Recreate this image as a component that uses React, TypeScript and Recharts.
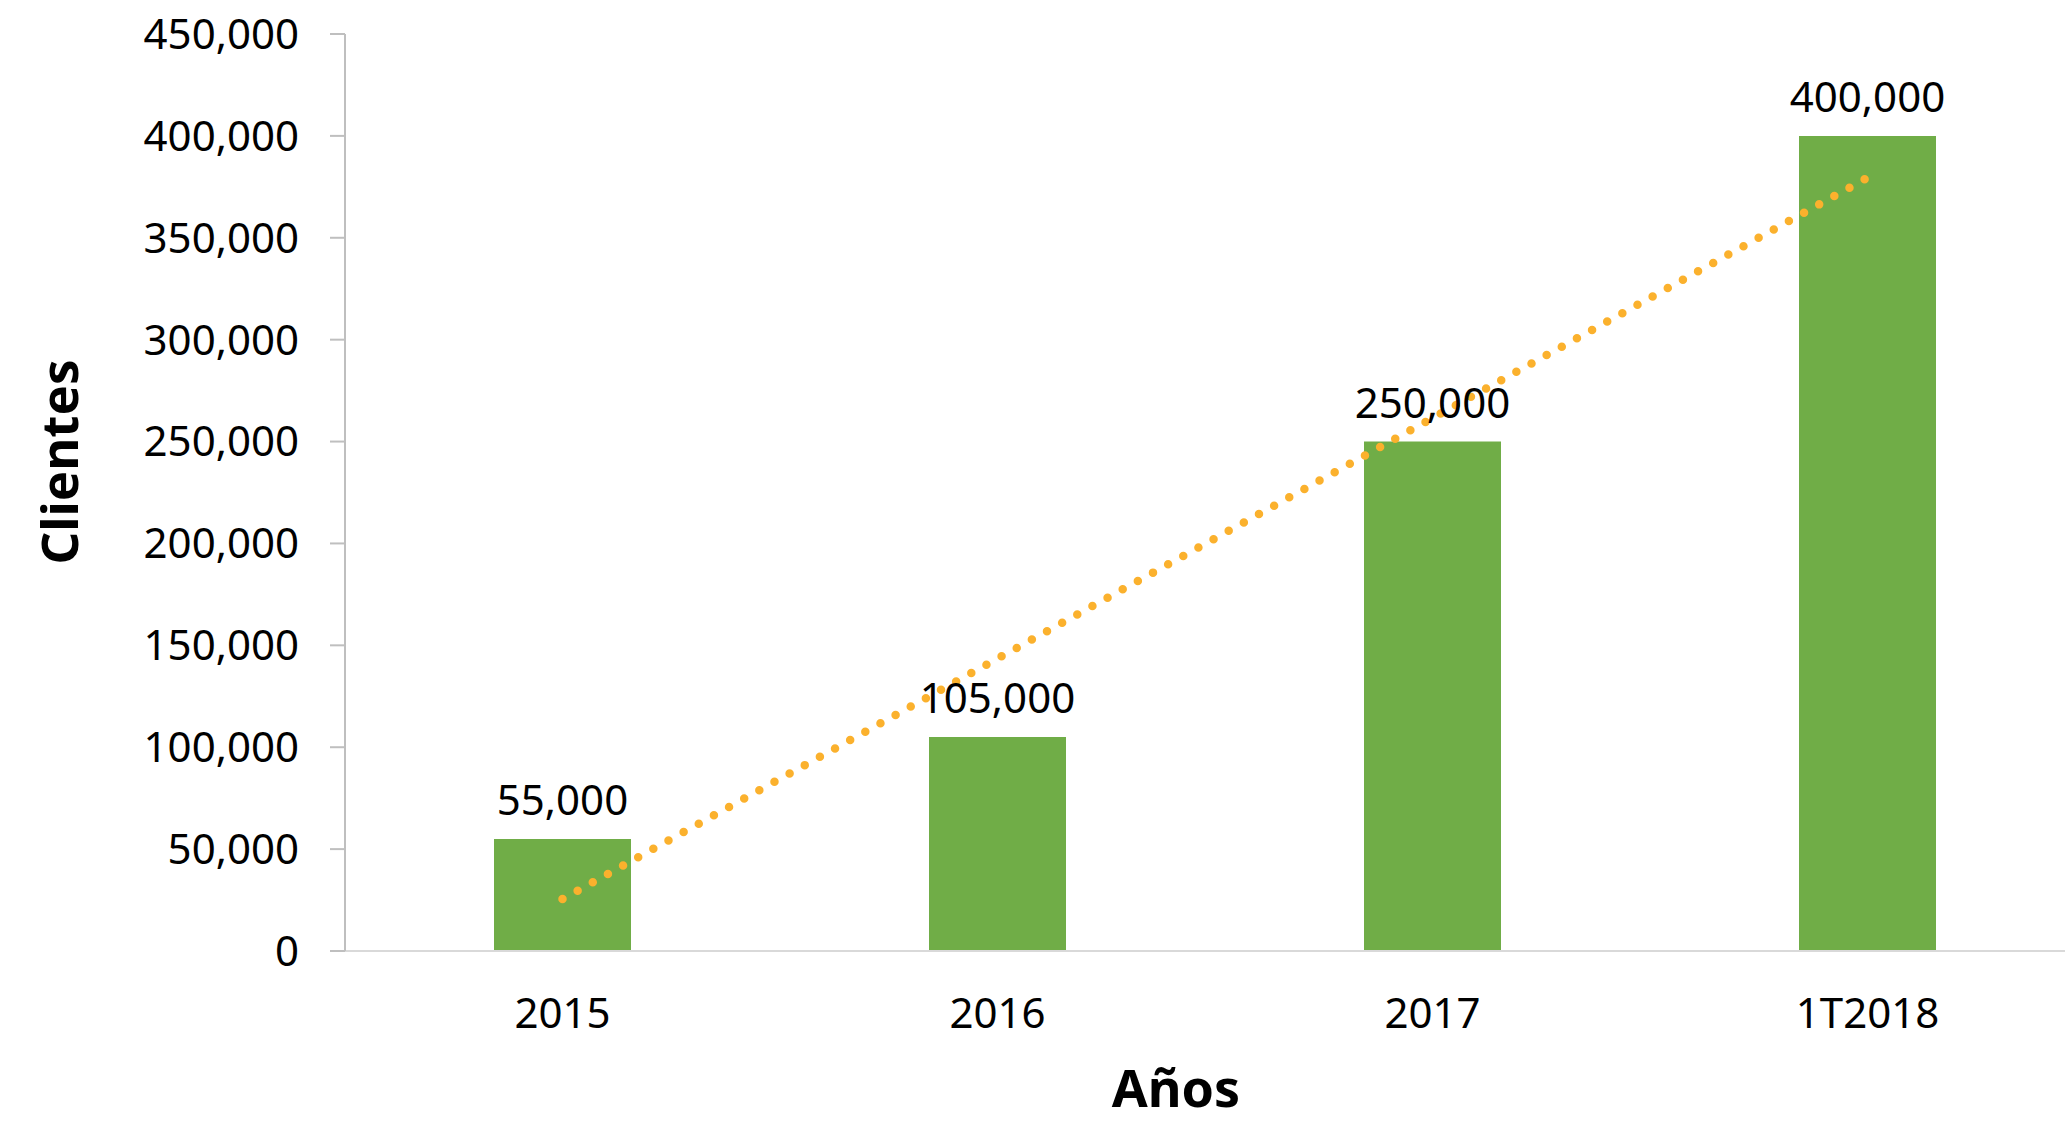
import React from 'react';
import { ComposedChart, Bar, Line, XAxis, YAxis, LabelList } from 'recharts';

const years = ['2015', '2016', '2017', '1T2018'];
const clientes = [55000, 105000, 250000, 400000];
const tendencia = [25500, 143500, 261500, 379500];
const yTicks = [0, 50000, 100000, 150000, 200000, 250000, 300000, 350000, 400000, 450000];

const data = years.map((year, i) => ({
  year,
  clientes: clientes[i],
  tendencia: tendencia[i],
}));

const fmt = (v: number) => v.toLocaleString('en-US');
const font = "'Noto Sans', sans-serif";

const YTitle = () => (
  <text
    x={58}
    y={462}
    transform="rotate(-90 58 462)"
    textAnchor="middle"
    dominantBaseline="central"
    fontFamily={font}
    fontWeight={700}
    fontSize={51}
    fill="#000"
  >
    Clientes
  </text>
);

const XTitle = () => (
  <text
    x={1176}
    y={1107}
    textAnchor="middle"
    fontFamily={font}
    fontWeight={700}
    fontSize={52}
    fill="#000"
  >
    Años
  </text>
);

export default function App() {
  return (
    <div
      style={{
        position: 'absolute',
        left: 0,
        top: 0,
        width: 2065,
        height: 1123,
        overflow: 'hidden',
        background: '#fff',
      }}
    >
      <ComposedChart
        width={2100}
        height={1123}
        data={data}
        margin={{ top: 34, right: 15, left: 0, bottom: 0 }}
      >
        <XAxis
          dataKey="year"
          height={172}
          stroke="#D9D9D9"
          strokeWidth={2}
          tickLine={false}
          tickSize={0}
          tickMargin={47}
          tick={{ fill: '#000', fontSize: 42, fontFamily: font }}
          label={{ content: () => <XTitle /> }}
        />
        <YAxis
          width={345}
          domain={[0, 450000]}
          ticks={yTicks}
          interval={0}
          tickFormatter={fmt}
          stroke="#BFBFBF"
          strokeWidth={2}
          tickSize={15}
          tickMargin={31}
          tick={{ fill: '#000', fontSize: 42, fontFamily: font }}
          label={{ content: () => <YTitle /> }}
        />
        <Bar dataKey="clientes" fill="#70AD47" barSize={137} isAnimationActive={false}>
          <LabelList
            dataKey="clientes"
            position="top"
            offset={24}
            formatter={(v: number) => fmt(v)}
            style={{ fill: '#000', fontSize: 42, fontFamily: font }}
          />
        </Bar>
        <Line
          type="linear"
          dataKey="tendencia"
          stroke="#FBB12D"
          strokeWidth={8.5}
          strokeLinecap="round"
          strokeDasharray="0 17.3"
          dot={false}
          activeDot={false}
          isAnimationActive={false}
        />
      </ComposedChart>
    </div>
  );
}
